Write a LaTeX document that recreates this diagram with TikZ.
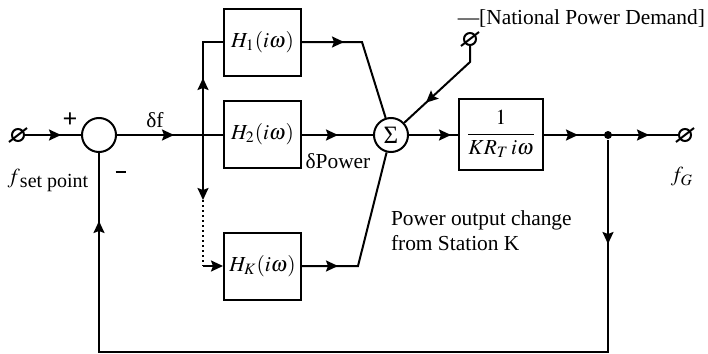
\documentclass[tikz,border=0pt]{standalone}
\usepackage{mathptmx}
\usepackage{fontspec}
\setmainfont{Liberation Serif}
\usetikzlibrary{arrows.meta,decorations.markings}
\begin{document}
\begin{tikzpicture}[x=0.5pt,y=-0.5pt,
  line width=1pt,
  font=\fontsize{10.7pt}{12.5pt}\selectfont,
  arw/.tip={Stealth[length=6pt,width=5.5pt,inset=1pt]},
  arr/.style={postaction={decorate,decoration={markings,mark=at position #1 with {\arrow{arw}}}}},
  blk/.style={draw,minimum width=38.5pt,minimum height=33.5pt,inner sep=0pt},
  sumc/.style={draw,circle,minimum size=17pt,inner sep=0pt},
  term/.style={draw,circle,minimum size=6pt,inner sep=0pt},
  lbl/.style={inner sep=0pt}
]
\useasboundingbox (0,0) rectangle (708,354);

% nodes
\node[term] (in) at (18,135) {};
\node[sumc] (s1) at (99,135) {};
\coordinate (j) at (203,135);
\coordinate (jt) at (203,42);
\coordinate (jd) at (203,200);
\coordinate (jb) at (203,266);
\node[blk] (h1) at (262.5,42) {$H_1(i\omega)$};
\node[blk] (h2) at (262.5,134) {$H_2(i\omega)$};
\node[blk] (hk) at (262.5,266) {$H_K(i\omega)$};
\node[sumc,font=\fontsize{12.5pt}{13pt}\selectfont] (sg) at (391,135) {Σ};
\coordinate (c1) at (362,42);
\coordinate (ck) at (358,266);
\node[term] (nt) at (470,39) {};
\coordinate (nc) at (470,62);
\node[draw,minimum width=42pt,minimum height=35.5pt,inner sep=0pt] (kr) at (501,134) {$\displaystyle\frac{1}{KR_T\,i\omega}$};
\node[circle,fill,minimum size=4pt,inner sep=0pt] (dot) at (608,135) {};
\node[term] (out) at (685,135) {};
\coordinate (fr) at (608,352);
\coordinate (fl) at (99,352);

% terminal slashes
\foreach \t in {in,nt,out}
  \draw ([shift={(-4.5pt,-3.5pt)}]\t.center) -- ([shift={(4.5pt,3.5pt)}]\t.center);

% connectors
\draw[arr=18pt] (in) -- (s1);
\draw[arr=28.5pt] (s1) -- (j) -- (j -| h2.west);
\draw[arr=28.5pt] (j) -- (jt) -- (h1);
\draw[-arw] (j) -- (jd);
\draw[dash pattern=on 1.2pt off 1.3pt] (jd) -- (jb);
\draw[-arw] (jb) -- (hk);
\draw[arr=21pt] (h1) -- (c1) -- (sg);
\draw[arr=18pt] (h2.east |- sg) -- (sg);
\draw[arr=18pt] (hk) -- (ck) -- (sg);
\draw[arr=38pt] (nt) -- (nc) -- (sg);
\draw[arr=21pt] (sg) -- (kr.west |- sg);
\draw[arr=17pt,arr=52.5pt] (kr.east |- dot) -- (out);
\draw[arr=52pt,arr=-34pt] (dot) -- (fr) -- (fl) -- (s1);

% labels
\node[lbl,font=\fontsize{13pt}{13pt}\selectfont\bfseries] (plus) at (70,120) {+};
\node[lbl] (minus) at (121,172) {\rule{5.5pt}{1.2pt}};
\node[lbl] (fsp) at (48,180) {$f$\raisebox{-2pt}{\fontsize{10pt}{12pt}\selectfont set point}};
\node[lbl] (df) at (155,120) {δf};
\node[lbl] (dp) at (338,161) {δPower};
\node[lbl,anchor=west,align=left] (po) at (390,231) {Power output change\\from Station K};
\node[lbl,anchor=east] (nd) at (706,19) {—[National Power Demand]};
\node[lbl] (fg) at (682,177) {$f_G$};
\end{tikzpicture}
\end{document}
